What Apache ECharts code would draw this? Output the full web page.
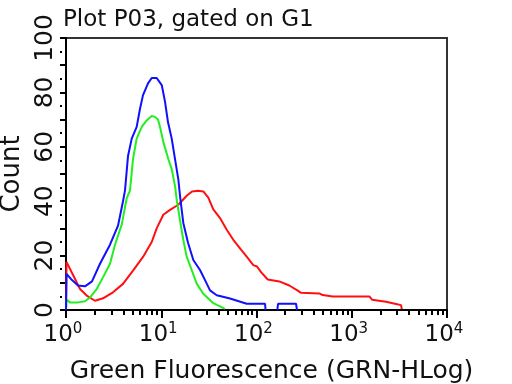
<!DOCTYPE html>
<html><head><meta charset="utf-8">
<script src="https://cdn.jsdelivr.net/npm/echarts@6/dist/echarts.min.js"></script>
<style>html,body{margin:0;padding:0;background:#fff}#c{width:512px;height:384px}</style>
</head><body><div id="c"></div>
<script>
// ---- data ----
const titleText = 'Plot P03, gated on G1';
const xAxisName = 'Green Fluorescence (GRN-HLog)';
const yAxisName = 'Count';
const xMajorTicks = [1, 10, 100, 1000, 10000];
const xMinorTicks = [2,3,4,5,6,7,8,9,20,30,40,50,60,70,80,90,200,300,400,500,600,700,800,900,2000,3000,4000,5000,6000,7000,8000,9000];
const yTickLabels = [0, 20, 40, 60, 80, 100];

const redX = [1, 1.012, 1.193, 1.403, 1.65, 2.016, 2.446, 3.115, 3.968, 5.052, 6.435, 7.943, 8.954, 10.51, 12.36, 15.11, 18.49, 21.04, 24.32, 27.64, 31.19, 35.2, 41.4, 48.68, 57.08, 67.14, 78.89, 92.58, 101.3, 111.6, 131.2, 173.6, 221.1, 271.0, 293.5, 456.6, 496.1, 631.0, 1530, 1633, 2291, 2917, 3293, 3350];
const redY = [0, 17.7, 12.7, 7.7, 5.3, 3.4, 4.3, 6.5, 9.6, 14.5, 19.5, 25, 30, 35, 36.8, 38.7, 42, 43.6, 43.8, 43.6, 41.3, 37, 33.8, 29.5, 25.8, 22.7, 19.6, 16.5, 16, 13.9, 11.2, 10.5, 9, 7.1, 6.3, 6.1, 5.5, 5, 5, 3.8, 3, 2.2, 1.8, 0.3];

const greenX = [1, 1.012, 1.102, 1.337, 1.583, 1.786, 2.1, 2.446, 2.897, 3.27, 3.846, 4.335, 4.699, 5.052, 5.521, 6.237, 7.031, 7.943, 8.6, 9.247, 9.705, 10.51, 11.86, 12.88, 13.95, 14.52, 15.74, 17.04, 18.49, 20.87, 23.55, 27.64, 35.2, 46.72];
const greenY = [0, 3.8, 2.8, 2.8, 3.2, 4.6, 7.7, 12, 17, 24, 31.4, 41, 44, 55.5, 63, 67.3, 69.7, 71.3, 71, 70, 67.3, 61.8, 55.5, 51.8, 45.6, 40.6, 33, 25.8, 19.6, 14.7, 9.7, 6, 2.5, 0.4];

const blueX = [1, 1.012, 1.156, 1.337, 1.583, 1.875, 2.275, 2.897, 3.516, 3.968, 4.164, 4.477, 4.898, 5.521, 5.984, 6.435, 7.261, 7.943, 8.954, 10.12, 10.95, 11.78, 12.88, 13.95, 15.11, 15.74, 17.04, 19.1, 21.71, 25.53, 28.81, 32.51, 38.21, 52.72, 78.89, 122.9, 124.5, 140, 165.4, 168.3, 260, 266.4];
const blueY = [0, 13.3, 11, 9, 8.7, 10.5, 17, 24, 31, 40, 44, 56.6, 63, 67.3, 74, 79, 83.3, 85.3, 85.3, 82.7, 76.6, 69, 63, 55.5, 48, 42, 32, 24.7, 18.4, 14.7, 11, 7.2, 5.4, 4.2, 2.3, 2.3, 0, '-', 0, 2.3, 2.3, 0];

const FONT = 'DejaVu Sans';
const pair = (xs, ys) => xs.map((x, i) => [x, ys[i]]);

const chart = echarts.init(document.getElementById('c'), null, {renderer: 'canvas'});
chart.setOption({
  animation: false,
  backgroundColor: '#fff',
  title: {
    text: titleText, left: 58, top: 4,
    textStyle: {fontFamily: FONT, fontSize: 23, fontWeight: 'normal', color: '#111'}
  },
  grid: {left: 66, right: 65, top: 38, bottom: 74, containLabel: false, outerBoundsMode: 'none',
    show: true, borderColor: '#333', borderWidth: 2, backgroundColor: 'transparent'},
  xAxis: [{
    type: 'log', logBase: 10, min: 1, max: 10000,
    name: xAxisName, nameLocation: 'middle', nameGap: 49,
    nameTextStyle: {fontFamily: FONT, fontSize: 25, color: '#111', padding: [0, 0, 0, 30]},
    axisLine: {show: true, lineStyle: {color: '#000', width: 2}},
    axisTick: {show: true, inside: false, length: 8, lineStyle: {color: '#000', width: 2}, customValues: xMajorTicks},
    axisLabel: {
      show: true, margin: 12, customValues: xMajorTicks,
      formatter: v => '{b|10}{s|' + Math.round(Math.log10(v)) + '}',
      rich: {
        b: {fontFamily: FONT, fontSize: 23, lineHeight: 26, color: '#111'},
        s: {fontFamily: FONT, fontSize: 15, lineHeight: 15, verticalAlign: 'top', color: '#111', padding: [0, 6, 0, 0]}
      }
    },
    splitLine: {show: false}, minorTick: {show: false}
  }, {
    type: 'log', logBase: 10, min: 1, max: 10000, position: 'bottom',
    axisLine: {show: false},
    axisTick: {show: true, inside: false, length: 5, lineStyle: {color: '#000', width: 2}, customValues: xMinorTicks},
    axisLabel: {show: false}, splitLine: {show: false}
  }],
  yAxis: [{
    type: 'value', min: 0, max: 100, interval: 10,
    name: yAxisName, nameLocation: 'middle', nameGap: 28, nameRotate: 90,
    nameTextStyle: {fontFamily: FONT, fontSize: 26, color: '#111'},
    axisLine: {show: true, lineStyle: {color: '#000', width: 2}},
    axisTick: {show: true, inside: false, length: 6, lineStyle: {color: '#000', width: 2}},
    axisLabel: {
      show: true, rotate: 90, margin: 8, fontFamily: FONT, fontSize: 25, color: '#111',
      formatter: v => (yTickLabels.indexOf(v) >= 0 ? String(v) : '')
    },
    splitLine: {show: false}
  }, {
    type: 'value', min: 0, max: 100, interval: 5, position: 'left', offset: 4,
    axisLine: {show: false},
    axisTick: {show: true, inside: false, length: 2, lineStyle: {color: '#000', width: 2}},
    axisLabel: {show: false}, splitLine: {show: false}
  }],
  series: [
    {type: 'line', name: 'red', data: pair(redX, redY), showSymbol: false, symbol: 'none', lineStyle: {color: '#ff1010', width: 2}, z: 3},
    {type: 'line', name: 'green', data: pair(greenX, greenY), showSymbol: false, symbol: 'none', lineStyle: {color: '#22ee22', width: 2}, z: 4},
    {type: 'line', name: 'blue', data: pair(blueX, blueY), showSymbol: false, symbol: 'none', connectNulls: false, lineStyle: {color: '#1010ff', width: 2}, z: 5}
  ]
});
</script></body></html>
